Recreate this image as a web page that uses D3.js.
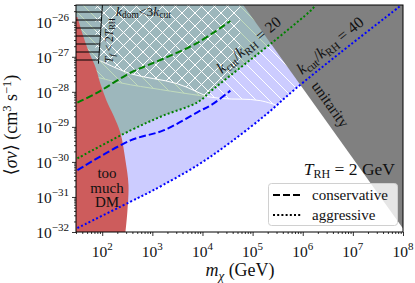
<!DOCTYPE html>
<html>
<head>
<meta charset="utf-8">
<script src="https://cdn.jsdelivr.net/npm/d3@7"></script>
<style>
  body { margin: 0; background: #fff; }
  svg { display: block; }
  text { font-family: "Liberation Serif", "DejaVu Serif", serif; fill: #111; }
</style>
</head>
<body>
<svg id="chart" width="415" height="283"></svg>
<script>
// values: [m_chi (GeV), <sigma v> (cm^3/s)]
const xDomain = [30, 1e8];
const yDomain = [1e-32, 3e-26];
const xTickExps = [2, 3, 4, 5, 6, 7, 8];
const yTickExps = [-32, -31, -30, -29, -28, -27, -26];

const greenDashed = [[32, 4.9e-29], [80, 9.5e-29], [366, 3.5e-28], [1660, 8.8e-28], [7900, 2.5e-27], [36000, 1.05e-26]];
const blueDashed = [[32, 5.8e-31], [366, 4.1e-30], [1660, 7.9e-30], [7900, 2.6e-29], [16500, 4.6e-29], [36000, 1.08e-28]];
const greenDotted = [[32, 1.26e-30], [366, 7.9e-30], [1660, 2.1e-29], [7900, 5.0e-29], [16500, 1.2e-28], [57000, 4.9e-28], [225000, 2.3e-27], [1.55e6, 2.3e-26], [1.8e6, 3e-26]];
const blueDotted = [[32, 1.3e-32], [505, 9.2e-32], [1050, 1.56e-31], [7900, 8e-31], [36000, 3.6e-30], [196000, 2.4e-29], [647000, 1.08e-28], [5.6e6, 1.3e-27], [8.8e7, 2.8e-26]];
const tooMuchDM = [[32, 1.37e-26], [40.5, 4.5e-27], [53, 1.48e-27], [74, 4.9e-28], [92, 1.7e-28], [122, 5.6e-29], [168, 2.1e-29], [232, 6.5e-30], [291, 1.1e-30], [334, 2.2e-31], [319, 4.2e-32], [291, 1e-32]];
const freezeOut = [[101, 3e-26], [92, 4e-27], [84, 6.3e-28]];
const kdomGreen = [[92, 7.7e-28], [366, 3.3e-28], [3160, 1.7e-28], [16500, 6.4e-29], [57000, 4.3e-29]];
const kdomBlue = [[37, 3.5e-28], [232, 1.8e-28], [1450, 1.16e-28], [9080, 7.8e-29], [26000, 6.4e-29], [142000, 5.6e-29], [890000, 2.4e-29]];
const unitarity = [[6.5e4, 3e-26], [1e8, 1.26e-32]];

const svg = d3.select('#chart');
const x = d3.scaleLog().domain(xDomain).range([76, 403]);
const y = d3.scaleLog().domain(yDomain).range([232, 5]);
const [x0, x1] = x.range();
const [y0, y1] = y.range();

const line = d3.line().x(d => x(d[0])).y(d => y(d[1])).curve(d3.curveCatmullRom);
const straight = d3.line().x(d => x(d[0])).y(d => y(d[1]));

const defs = svg.append('defs');
defs.append('clipPath').attr('id', 'plot').append('rect')
  .attr('x', x0).attr('y', y1).attr('width', x1 - x0).attr('height', y0 - y1);

function hatch(id, color, size, path, width) {
  const p = defs.append('pattern').attr('id', id).attr('patternUnits', 'userSpaceOnUse')
    .attr('width', size).attr('height', size);
  p.append('path').attr('d', path).attr('stroke', color).attr('stroke-width', width).attr('fill', 'none');
}
const hs = 13;
const slash = `M-1,1 l2,-2 M0,${hs} l${hs},-${hs} M${hs - 1},${hs + 1} l2,-2`;
const back = `M-1,${hs - 1} l2,2 M0,0 l${hs},${hs} M${hs - 1},-1 l2,2`;
hatch('hBack', '#fff', hs, back, 1);
hatch('hCross', '#fff', hs, slash + back, 1);
hatch('hHoriz', '#000', 8, 'M0,4 h8', 1);

const g = svg.append('g').attr('clip-path', 'url(#plot)');

// region above a curve, up to the top of the plot
const above = pts => line(pts) + `L${x(pts[pts.length - 1][0])},${y1 - 5}L${x(pts[0][0]) - 5},${y1 - 5}L${x(pts[0][0]) - 5},${y(pts[0][1])}Z`;

defs.append('clipPath').attr('id', 'greenClip').append('path').attr('d', above(greenDotted));
defs.append('clipPath').attr('id', 'blueClip').append('path').attr('d', above(blueDotted));

// aggressive blue region with its k_dom < 3 k_cut hatch
g.append('path').attr('d', above(blueDotted)).attr('fill', '#ccccff');
const bh = g.append('g').attr('clip-path', 'url(#blueClip)');
bh.append('path').attr('d', above(kdomBlue)).attr('fill', 'url(#hBack)');
bh.append('path').attr('d', line(kdomBlue)).attr('fill', 'none').attr('stroke', '#fff').attr('stroke-width', 1);

// green region laid over it (tints the white hatch pale green)
g.append('path').attr('d', above(greenDotted)).attr('fill', 'rgb(51,137,32)').attr('fill-opacity', 0.3);
const gh = g.append('g').attr('clip-path', 'url(#greenClip)');
gh.append('path').attr('d', above(kdomGreen)).attr('fill', 'url(#hCross)');
gh.append('path').attr('d', line(kdomGreen)).attr('fill', 'none').attr('stroke', '#fff').attr('stroke-width', 1);

// unitarity bound
g.append('path')
  .attr('d', straight(unitarity) + `L${x1 + 5},${y(unitarity[1][1])}L${x1 + 5},${y1 - 5}Z`)
  .attr('fill', '#808080');

// too much DM
g.append('path')
  .attr('d', line(tooMuchDM) + `L${x0 - 5},${y0 + 5}L${x0 - 5},${y(tooMuchDM[0][1])}Z`)
  .attr('fill', '#cd5c5c');

// T_f < 2 T_RH
const fo = freezeOut;
g.append('path')
  .attr('d', line(fo) + `L${x0 - 5},${y(fo[fo.length - 1][1])}L${x0 - 5},${y1 - 5}Z`)
  .attr('fill', 'url(#hHoriz)');
g.append('path').attr('d', line(fo)).attr('fill', 'none').attr('stroke', '#000').attr('stroke-width', 1);

// cut-off lines
const curves = [
  [greenDashed, 'green', '7,3'],
  [blueDashed, 'blue', '7,3'],
  [greenDotted, 'green', '2,2.2'],
  [blueDotted, 'blue', '2,2.2']
];
curves.forEach(([pts, c, dash]) => {
  g.append('path').attr('d', line(pts)).attr('fill', 'none')
    .attr('stroke', c).attr('stroke-width', 2).attr('stroke-dasharray', dash);
});

// frame
svg.append('rect').attr('x', x0).attr('y', y1).attr('width', x1 - x0).attr('height', y0 - y1)
  .attr('fill', 'none').attr('stroke', '#000').attr('stroke-width', 1);

// ticks
const minorX = [];
for (let e = 1; e < 8; e++) for (let k = 2; k < 10; k++) {
  const v = k * Math.pow(10, e);
  if (v >= xDomain[0] && v <= xDomain[1]) minorX.push(v);
}
const minorY = [];
for (let e = -32; e < -25; e++) for (let k = 2; k < 10; k++) {
  const v = k * Math.pow(10, e);
  if (v >= yDomain[0] && v <= yDomain[1]) minorY.push(v);
}
svg.append('g').attr('transform', `translate(0,${y0})`)
  .call(d3.axisBottom(x).tickValues(xTickExps.map(e => Math.pow(10, e))).tickSize(4).tickFormat(''));
svg.append('g').attr('transform', `translate(0,${y0})`)
  .call(d3.axisBottom(x).tickValues(minorX).tickSize(2).tickFormat(''));
svg.append('g').attr('transform', `translate(${x0},0)`)
  .call(d3.axisLeft(y).tickValues(yTickExps.map(e => Math.pow(10, e))).tickSize(4).tickFormat(''));
svg.append('g').attr('transform', `translate(${x0},0)`)
  .call(d3.axisLeft(y).tickValues(minorY).tickSize(2).tickFormat(''));
svg.selectAll('.domain').remove();
svg.selectAll('.tick line').attr('stroke', '#000').attr('stroke-width', 0.8);

xTickExps.forEach(e => {
  const t = svg.append('text').attr('x', x(Math.pow(10, e))).attr('y', 257)
    .attr('text-anchor', 'middle').attr('font-size', 15.5);
  t.append('tspan').text('10');
  t.append('tspan').attr('dy', -7).attr('font-size', 11).text(e);
});
yTickExps.forEach(e => {
  const t = svg.append('text').attr('x', 69).attr('y', y(Math.pow(10, e)) + 6)
    .attr('text-anchor', 'end').attr('font-size', 15.5);
  t.append('tspan').text('10');
  t.append('tspan').attr('dy', -7).attr('font-size', 11).text('\u2212' + (-e));
});

// axis titles
const xl = svg.append('text').attr('x', 240).attr('y', 276).attr('text-anchor', 'middle').attr('font-size', 18);
xl.append('tspan').attr('font-style', 'italic').text('m');
xl.append('tspan').attr('font-style', 'italic').attr('font-size', 13).attr('dy', 4).text('\u03c7');
xl.append('tspan').attr('dy', -4).text(' (GeV)');

const yl = svg.append('text').attr('transform', 'translate(17,125) rotate(-90)')
  .attr('text-anchor', 'middle').attr('font-size', 18);
yl.append('tspan').text('\u27e8');
yl.append('tspan').attr('font-style', 'italic').text('\u03c3v');
yl.append('tspan').text('\u27e9 (cm');
yl.append('tspan').attr('dy', -6).attr('font-size', 12.5).text('3');
yl.append('tspan').attr('dy', 6).text(' s');
yl.append('tspan').attr('dy', -6).attr('font-size', 12.5).text('\u22121');
yl.append('tspan').attr('dy', 6).text(')');

// annotations
function kRatio(sel, fs, rhs) {
  sel.append('tspan').attr('font-style', 'italic').text('k');
  sel.append('tspan').attr('font-size', fs * 0.7).attr('dy', 3).text('cut');
  sel.append('tspan').attr('dy', -3).text('/');
  sel.append('tspan').attr('font-style', 'italic').text('k');
  sel.append('tspan').attr('font-size', fs * 0.7).attr('dy', 3).text('RH');
  sel.append('tspan').attr('dy', -3).text(' = ' + rhs);
}
kRatio(svg.append('text').attr('transform', 'translate(222,74) rotate(-40)').attr('font-size', 15.5), 15.5, '20');
kRatio(svg.append('text').attr('transform', 'translate(302,75) rotate(-39)').attr('font-size', 16), 16, '40');

svg.append('text').attr('transform', 'translate(311,86) rotate(54.5)').attr('font-size', 15.5).text('unitarity');

const kd = svg.append('text').attr('x', 116).attr('y', 16).attr('font-size', 13.5);
kd.append('tspan').attr('font-style', 'italic').text('k');
kd.append('tspan').attr('font-size', 9.5).attr('dy', 2).text('dom');
kd.append('tspan').attr('dy', -2).text('<3');
kd.append('tspan').attr('font-style', 'italic').text('k');
kd.append('tspan').attr('font-size', 9.5).attr('dy', 2).text('cut');

const tf = svg.append('text').attr('transform', 'translate(113,63) rotate(-90)').attr('font-size', 11.5);
tf.append('tspan').attr('font-style', 'italic').text('T');
tf.append('tspan').attr('font-style', 'italic').attr('font-size', 8.5).attr('dy', 2).text('f');
tf.append('tspan').attr('dy', -2).text(' < 2');
tf.append('tspan').attr('font-style', 'italic').text('T');
tf.append('tspan').attr('font-size', 8.5).attr('dy', 2).text('RH');

['too', 'much', 'DM'].forEach((s, i) => {
  svg.append('text').attr('x', 107).attr('y', 178 + i * 14.5).attr('text-anchor', 'middle')
    .attr('font-size', 15).text(s);
});

const trh = svg.append('text').attr('x', 395).attr('y', 175).attr('text-anchor', 'end').attr('font-size', 17.5);
trh.append('tspan').attr('font-style', 'italic').text('T');
trh.append('tspan').attr('font-size', 12).attr('dy', 3).text('RH');
trh.append('tspan').attr('dy', -3).text(' = 2 GeV');

// legend
const lg = svg.append('g');
lg.append('rect').attr('x', 268.5).attr('y', 183.5).attr('width', 129).attr('height', 42).attr('rx', 3)
  .attr('fill', '#fff').attr('fill-opacity', 0.8).attr('stroke', '#d0d0d0');
const legendItems = [['conservative', '7,3'], ['aggressive', '2,2.2']];
legendItems.forEach(([label, dash], i) => {
  const ly = 195 + i * 20;
  lg.append('line').attr('x1', 273).attr('x2', 302).attr('y1', ly).attr('y2', ly)
    .attr('stroke', '#000').attr('stroke-width', 2).attr('stroke-dasharray', dash);
  lg.append('text').attr('x', 312).attr('y', ly + 5).attr('font-size', 15).text(label);
});
</script>
</body>
</html>
